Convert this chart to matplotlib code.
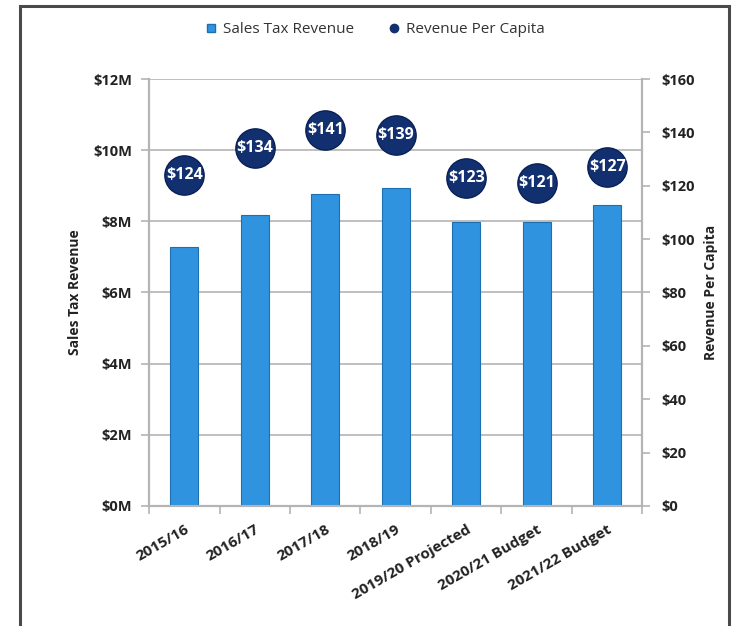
import matplotlib.pyplot as plt
import matplotlib.patches as mpatches
from matplotlib.lines import Line2D
import numpy as np

plt.rcParams['font.family'] = ['Open Sans', 'DejaVu Sans']

# Fiscal years and values
years = ['2015/16', '2016/17', '2017/18', '2018/19', '2019/20 Projected',
         '2020/21 Budget', '2021/22 Budget']
sales_tax_m = [7.29, 8.17, 8.76, 8.93, 7.97, 7.97, 8.46]   # $ millions
per_capita = [124, 134, 141, 139, 123, 121, 127]           # $ per resident

bar_color = '#2F93DF'
dot_color = '#12306F'
grid_color = '#B4B4B4'

fig = plt.figure(figsize=(7.32, 6.26), dpi=100)
ax = fig.add_axes([0.2036, 0.1917, 0.6740, 0.6821])
ax2 = ax.twinx()

x = np.arange(len(years))
ax.bar(x, sales_tax_m, width=0.4, color=bar_color, edgecolor='#1E6FB0',
       linewidth=0.8, zorder=3)

ax.set_xlim(-0.5, len(years) - 0.5)
ax.set_ylim(0, 12)
ax.set_yticks(np.arange(0, 13, 2))
ax.set_yticklabels([f'${v}M' for v in range(0, 13, 2)])
ax.grid(axis='y', color=grid_color, linewidth=1.2, zorder=0)
ax.set_axisbelow(True)

ax2.set_ylim(0, 160)
ax2.set_yticks(np.arange(0, 161, 20))
ax2.set_yticklabels([f'${v}' for v in range(0, 161, 20)])

# Per-capita bubbles with value labels
ax2.scatter(x, per_capita, s=800, color=dot_color, edgecolor='#0A2055',
            linewidth=1, zorder=5)
for xi, v in zip(x, per_capita):
    ax2.text(xi, v, f'${v}', ha='center', va='center', color='white',
             fontsize=11.5, fontweight='bold', zorder=6)

# Category ticks sit between the bars
ax.set_xticks(x)
ax.set_xticklabels(years, rotation=30, ha='right', rotation_mode='anchor',
                   fontsize=11, fontweight='bold', color='#222222')
ax.set_xticks(np.arange(-0.5, len(years)), minor=True)
ax.tick_params(axis='x', which='major', length=0, pad=12)
ax.tick_params(axis='x', which='minor', length=6, color=grid_color, width=1.2)

for a in (ax, ax2):
    a.spines['top'].set_visible(False)
    for side in ('left', 'right', 'bottom'):
        a.spines[side].set_color(grid_color)
        a.spines[side].set_linewidth(1.5)

ax.tick_params(axis='y', length=6, color=grid_color, width=1.2,
               labelsize=10.5, labelcolor='#222222', pad=6)
ax2.tick_params(axis='y', length=6, color=grid_color, width=1.2,
                labelsize=10.5, labelcolor='#222222', pad=8)
for lbl in ax.get_yticklabels() + ax2.get_yticklabels():
    lbl.set_fontweight('bold')

ax.set_ylabel('Sales Tax Revenue', fontsize=10, fontweight='bold',
              color='#222222', labelpad=8)
ax2.set_ylabel('Revenue Per Capita', fontsize=10, fontweight='bold',
               color='#222222', rotation=90, labelpad=6)

handles = [
    Line2D([], [], marker='s', linestyle='none', markersize=6,
           markerfacecolor=bar_color, markeredgecolor='#1E6FB0'),
    Line2D([], [], marker='o', linestyle='none', markersize=6,
           markerfacecolor=dot_color, markeredgecolor=dot_color),
]
fig.legend(handles, ['Sales Tax Revenue', 'Revenue Per Capita'],
           loc='center', bbox_to_anchor=(0.506, 0.953), ncol=2, frameon=False,
           fontsize=11, handletextpad=-0.2, columnspacing=1.6,
           labelcolor='#333333')

# Outer border around the chart
frame = mpatches.Rectangle((20 / 732, -0.05), 709 / 732, 1.05 - 6 / 626,
                           transform=fig.transFigure, fill=False,
                           edgecolor='#4A4A4A', linewidth=2.2)
fig.patches.append(frame)

fig.savefig('out.png', dpi=100)
